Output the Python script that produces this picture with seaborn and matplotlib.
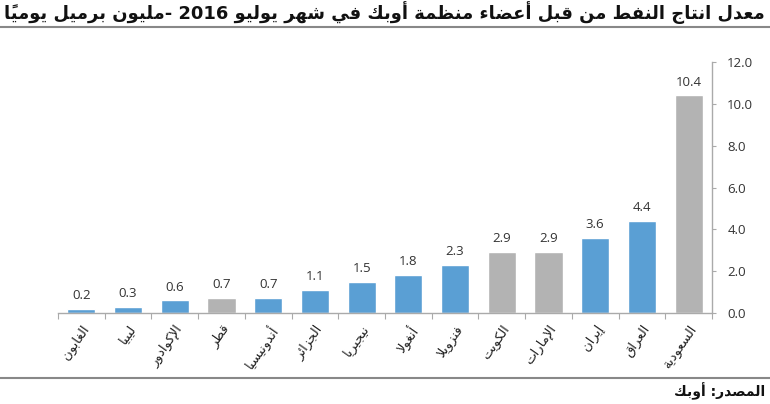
import matplotlib
matplotlib.use("Agg")
import matplotlib.pyplot as plt
import seaborn as sns
import numpy as np
from matplotlib.ticker import FixedLocator, FormatStrFormatter

# ---------------- data ----------------
countries = ["الغابون", "ليبيا", "الإكوادور", "قطر", "أندونيسيا", "الجزائر", "نيجيريا",
             "أنغولا", "فنزويلا", "الكويت", "الإمارات", "إيران", "العراق", "السعودية"]
production = [0.2, 0.3, 0.6, 0.7, 0.7, 1.1, 1.5, 1.8, 2.3, 2.9, 2.9, 3.6, 4.4, 10.4]
is_gulf = [False, False, False, True, False, False, False, False, False, True, True, False, False, True]
title_text = "معدل انتاج النفط من قبل أعضاء منظمة أوبك في شهر يوليو 2016 -مليون برميل يومياً"
source_text = "المصدر: أوبك"
y_ticks = [0, 2, 4, 6, 8, 10, 12]

BLUE = "#5A9FD4"
GRAY = "#B3B3B3"

# ---------------- minimal Arabic shaping (no complex text layout in matplotlib) ----------------
_TABLE = [(0x621, 0xFE80, 1), (0x622, 0xFE81, 2), (0x623, 0xFE83, 2), (0x624, 0xFE85, 2),
          (0x625, 0xFE87, 2), (0x626, 0xFE89, 4), (0x627, 0xFE8D, 2), (0x628, 0xFE8F, 4),
          (0x629, 0xFE93, 2), (0x62A, 0xFE95, 4), (0x62B, 0xFE99, 4), (0x62C, 0xFE9D, 4),
          (0x62D, 0xFEA1, 4), (0x62E, 0xFEA5, 4), (0x62F, 0xFEA9, 2), (0x630, 0xFEAB, 2),
          (0x631, 0xFEAD, 2), (0x632, 0xFEAF, 2), (0x633, 0xFEB1, 4), (0x634, 0xFEB5, 4),
          (0x635, 0xFEB9, 4), (0x636, 0xFEBD, 4), (0x637, 0xFEC1, 4), (0x638, 0xFEC5, 4),
          (0x639, 0xFEC9, 4), (0x63A, 0xFECD, 4), (0x641, 0xFED1, 4), (0x642, 0xFED5, 4),
          (0x643, 0xFED9, 4), (0x644, 0xFEDD, 4), (0x645, 0xFEE1, 4), (0x646, 0xFEE5, 4),
          (0x647, 0xFEE9, 4), (0x648, 0xFEED, 2), (0x649, 0xFEEF, 2), (0x64A, 0xFEF1, 4)]
FORMS = {chr(c): tuple(s + k for k in range(n)) for c, s, n in _TABLE}
LAMALEF = {"\u0622": 0xFEF5, "\u0623": 0xFEF7, "\u0625": 0xFEF9, "\u0627": 0xFEFB}


def _is_mark(c):
    return "\u064B" <= c <= "\u065F"


def shape(s):
    chars = list(s)
    n = len(chars)
    out = []
    prev_joins = False
    i = 0
    while i < n:
        c = chars[i]
        if _is_mark(c):
            out.append(c)
            i += 1
            continue
        if c not in FORMS:
            out.append(c)
            prev_joins = False
            i += 1
            continue
        j = i + 1
        while j < n and _is_mark(chars[j]):
            j += 1
        nxt = chars[j] if j < n else None
        if c == "\u0644" and nxt in LAMALEF:
            out.append(chr(LAMALEF[nxt] + (1 if prev_joins else 0)))
            out.extend(chars[i + 1:j])
            prev_joins = False
            i = j + 1
            continue
        forms = FORMS[c]
        can_next = len(forms) == 4 and nxt is not None and nxt in FORMS
        if len(forms) == 1:
            f = forms[0]
        elif prev_joins and can_next:
            f = forms[3]
        elif prev_joins:
            f = forms[1]
        elif can_next:
            f = forms[2]
        else:
            f = forms[0]
        out.append(chr(f))
        prev_joins = len(forms) == 4
        i += 1
    clusters = []
    for c in out:
        if _is_mark(c) and clusters:
            clusters[-1] += c
        else:
            clusters.append(c)
    clusters = clusters[::-1]

    def is_ltr(cl):
        return cl[0].isascii() and (cl[0].isalnum() or cl[0] == ".")
    res = []
    k = 0
    while k < len(clusters):
        if is_ltr(clusters[k]):
            m = k
            while m < len(clusters) and is_ltr(clusters[m]):
                m += 1
            res.extend(clusters[k:m][::-1])
            k = m
        else:
            res.append(clusters[k])
            k += 1
    return "".join(res)


# ---------------- plot ----------------
sns.set_theme(style="white")
plt.rcParams["font.family"] = ["DejaVu Sans"]

fig = plt.figure(figsize=(7.7, 4.04), dpi=100)
ax = fig.add_axes([58 / 770, 1 - 313 / 404, (712 - 58) / 770, (313 - 62) / 404])

labels_shaped = [shape(c) for c in countries]
palette = {lab: (GRAY if g else BLUE) for lab, g in zip(labels_shaped, is_gulf)}
sns.barplot(x=labels_shaped, y=production, hue=labels_shaped, palette=palette,
            legend=False, width=0.6, saturation=1, ax=ax, order=labels_shaped)

for cont in ax.containers:
    ax.bar_label(cont, fmt="%.1f", padding=5, fontsize=9.5, color="#333333",
                 family=["Open Sans", "DejaVu Sans"])

ax.set_xlim(-0.5, len(countries) - 0.5)
ax.set_ylim(0, 12)
ax.yaxis.tick_right()
ax.set_yticks(y_ticks)
ax.yaxis.set_major_formatter(FormatStrFormatter("%.1f"))
ax.tick_params(axis="y", which="major", right=True, left=False, length=3, width=0.8,
               color="#AAAAAA", labelsize=9.5, labelcolor="#333333", pad=8)
for t in ax.get_yticklabels():
    t.set_fontfamily(["Open Sans", "DejaVu Sans"])

ax.set_xticks(range(len(countries)))
ax.set_xticklabels(labels_shaped, rotation=55, ha="right", va="top",
                   rotation_mode="anchor", fontsize=9.5, color="#222222")
ax.tick_params(axis="x", which="major", length=0, pad=7)
ax.xaxis.set_minor_locator(FixedLocator(np.arange(-0.5, len(countries), 1.0)))
ax.tick_params(axis="x", which="minor", bottom=True, length=4, width=0.8, color="#AAAAAA")

ax.set_xlabel("")
ax.set_ylabel("")
for side in ["top", "left"]:
    ax.spines[side].set_visible(False)
for side in ["bottom", "right"]:
    ax.spines[side].set_color("#AAAAAA")
    ax.spines[side].set_linewidth(1.0)
ax.grid(False)

# title + rules
fig.text(765 / 770, 1 - 13 / 404, shape(title_text), ha="right", va="center",
         fontsize=12.85, fontweight="bold", color="#111111")
fig.add_artist(plt.Line2D([0, 1], [1 - 27 / 404, 1 - 27 / 404], color="#888888", lw=1.5))
fig.add_artist(plt.Line2D([0, 1], [1 - 378 / 404, 1 - 378 / 404], color="#888888", lw=1.5))
fig.text(765 / 770, 1 - 391 / 404, shape(source_text), ha="right", va="center",
         fontsize=10, fontweight="bold", color="#111111")

fig.savefig("out.png", dpi=100, facecolor="white")
